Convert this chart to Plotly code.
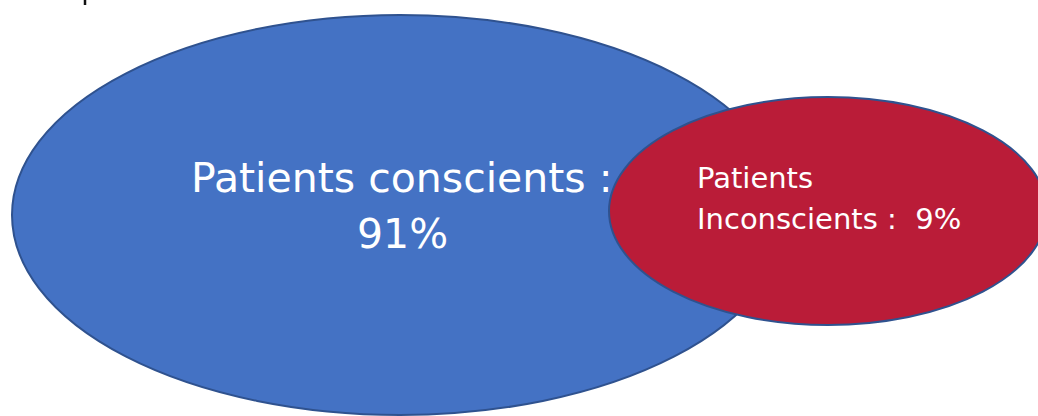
import plotly.graph_objects as go

# Groups and their share of patients
labels = ["Patients conscients", "Patients\nInconscients"]
shares = [91, 9]
fills = ["#4472C4", "#BA1C38"]

W, H = 1038, 416

fig = go.Figure()

# Invisible trace so the axes exist in pixel-like units
fig.add_trace(go.Scatter(x=[0, W], y=[0, H], mode="markers",
                         marker=dict(opacity=0), hoverinfo="skip", showlegend=False))

outline = dict(color="#2F528F", width=2)

# Large ellipse (conscious patients)
fig.add_shape(type="circle", xref="x", yref="y",
              x0=12, x1=788, y0=15, y1=415,
              fillcolor=fills[0], line=outline, layer="above")
# Smaller ellipse (unconscious patients), drawn on top
fig.add_shape(type="circle", xref="x", yref="y",
              x0=609, x1=1047, y0=97, y1=325,
              fillcolor=fills[1], line=outline, layer="above")

# Stray stroke at the top edge
fig.add_shape(type="line", xref="x", yref="y", x0=85, x1=85, y0=0, y1=5,
              line=dict(color="#111111", width=2.5), layer="above")

font_big = dict(family="DejaVu Sans", size=41, color="white")
font_small = dict(family="DejaVu Sans", size=29, color="white")

# Labels for the large ellipse
fig.add_annotation(x=402, y=178, xref="x", yref="y", text=f"{labels[0]} :",
                   showarrow=False, font=font_big, xanchor="center", yanchor="middle")
fig.add_annotation(x=402, y=234, xref="x", yref="y", text=f"{shares[0]}%",
                   showarrow=False, font=font_big, xanchor="center", yanchor="middle")

# Labels for the small ellipse
first, second = labels[1].split("\n")
fig.add_annotation(x=695, y=178, xref="x", yref="y", text=first,
                   showarrow=False, font=font_small, xanchor="left", yanchor="middle")
fig.add_annotation(x=695, y=219, xref="x", yref="y", text=f"{second} :  {shares[1]}%",
                   showarrow=False, font=font_small, xanchor="left", yanchor="middle")

fig.update_xaxes(range=[0, W], visible=False, fixedrange=True)
fig.update_yaxes(range=[H, 0], visible=False, fixedrange=True)
fig.update_layout(width=W, height=H, autosize=False,
                  margin=dict(l=0, r=0, t=0, b=0),
                  paper_bgcolor="white", plot_bgcolor="white",
                  showlegend=False)

fig.write_html("out.html", config={"displayModeBar": False})
